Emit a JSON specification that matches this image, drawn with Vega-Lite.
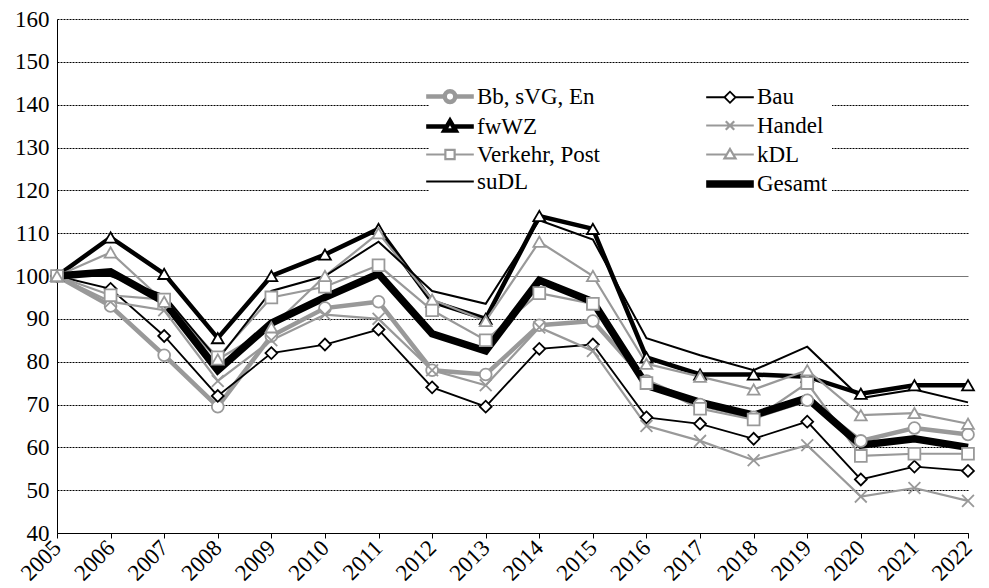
{
  "$schema": "https://vega.github.io/schema/vega-lite/v6.json",
  "width": 989,
  "height": 588,
  "autosize": {"type": "fit", "contains": "padding"},
  "padding": {"left": 14, "top": 8, "right": 6, "bottom": 2},
  "config": {
    "font": "Liberation Serif",
    "view": {"stroke": null},
    "axis": {"labelFont": "Liberation Serif", "labelFontSize": 23, "labelColor": "#000", "domainColor": "#000", "tickColor": "#000"},
    "legend": {"labelFont": "Liberation Serif", "labelFontSize": 23, "labelColor": "#000"}
  },
  "resolve": {"legend": {"shape": "independent", "strokeWidth": "independent", "stroke": "independent"}},
  "data": {"values": [
    {"s":"Bb, sVG, En","year":2005,"v":100},{"s":"Bb, sVG, En","year":2006,"v":93},{"s":"Bb, sVG, En","year":2007,"v":81.5},{"s":"Bb, sVG, En","year":2008,"v":69.5},{"s":"Bb, sVG, En","year":2009,"v":86},{"s":"Bb, sVG, En","year":2010,"v":92.5},{"s":"Bb, sVG, En","year":2011,"v":94},{"s":"Bb, sVG, En","year":2012,"v":78},{"s":"Bb, sVG, En","year":2013,"v":77},{"s":"Bb, sVG, En","year":2014,"v":88.5},{"s":"Bb, sVG, En","year":2015,"v":89.5},{"s":"Bb, sVG, En","year":2016,"v":75.5},{"s":"Bb, sVG, En","year":2017,"v":70},{"s":"Bb, sVG, En","year":2018,"v":67},{"s":"Bb, sVG, En","year":2019,"v":71},{"s":"Bb, sVG, En","year":2020,"v":61.5},{"s":"Bb, sVG, En","year":2021,"v":64.5},{"s":"Bb, sVG, En","year":2022,"v":63},
    {"s":"Bau","year":2005,"v":100},{"s":"Bau","year":2006,"v":97},{"s":"Bau","year":2007,"v":86},{"s":"Bau","year":2008,"v":72},{"s":"Bau","year":2009,"v":82},{"s":"Bau","year":2010,"v":84},{"s":"Bau","year":2011,"v":87.5},{"s":"Bau","year":2012,"v":74},{"s":"Bau","year":2013,"v":69.5},{"s":"Bau","year":2014,"v":83},{"s":"Bau","year":2015,"v":84},{"s":"Bau","year":2016,"v":67},{"s":"Bau","year":2017,"v":65.5},{"s":"Bau","year":2018,"v":62},{"s":"Bau","year":2019,"v":66},{"s":"Bau","year":2020,"v":52.5},{"s":"Bau","year":2021,"v":55.5},{"s":"Bau","year":2022,"v":54.5},
    {"s":"fwWZ","year":2005,"v":100},{"s":"fwWZ","year":2006,"v":109},{"s":"fwWZ","year":2007,"v":100.5},{"s":"fwWZ","year":2008,"v":85.5},{"s":"fwWZ","year":2009,"v":100},{"s":"fwWZ","year":2010,"v":105},{"s":"fwWZ","year":2011,"v":111},{"s":"fwWZ","year":2012,"v":94},{"s":"fwWZ","year":2013,"v":90},{"s":"fwWZ","year":2014,"v":114},{"s":"fwWZ","year":2015,"v":111},{"s":"fwWZ","year":2016,"v":81},{"s":"fwWZ","year":2017,"v":77},{"s":"fwWZ","year":2018,"v":77},{"s":"fwWZ","year":2019,"v":76.5},{"s":"fwWZ","year":2020,"v":72.5},{"s":"fwWZ","year":2021,"v":74.5},{"s":"fwWZ","year":2022,"v":74.5},
    {"s":"Handel","year":2005,"v":100},{"s":"Handel","year":2006,"v":94},{"s":"Handel","year":2007,"v":92},{"s":"Handel","year":2008,"v":75.5},{"s":"Handel","year":2009,"v":85},{"s":"Handel","year":2010,"v":91},{"s":"Handel","year":2011,"v":90},{"s":"Handel","year":2012,"v":78},{"s":"Handel","year":2013,"v":74.5},{"s":"Handel","year":2014,"v":88},{"s":"Handel","year":2015,"v":82.5},{"s":"Handel","year":2016,"v":65},{"s":"Handel","year":2017,"v":61.5},{"s":"Handel","year":2018,"v":57},{"s":"Handel","year":2019,"v":60.5},{"s":"Handel","year":2020,"v":48.5},{"s":"Handel","year":2021,"v":50.5},{"s":"Handel","year":2022,"v":47.5},
    {"s":"Verkehr, Post","year":2005,"v":100},{"s":"Verkehr, Post","year":2006,"v":95.5},{"s":"Verkehr, Post","year":2007,"v":94.5},{"s":"Verkehr, Post","year":2008,"v":81},{"s":"Verkehr, Post","year":2009,"v":95},{"s":"Verkehr, Post","year":2010,"v":97.5},{"s":"Verkehr, Post","year":2011,"v":102.5},{"s":"Verkehr, Post","year":2012,"v":92},{"s":"Verkehr, Post","year":2013,"v":85},{"s":"Verkehr, Post","year":2014,"v":96},{"s":"Verkehr, Post","year":2015,"v":93.5},{"s":"Verkehr, Post","year":2016,"v":75},{"s":"Verkehr, Post","year":2017,"v":69},{"s":"Verkehr, Post","year":2018,"v":66.5},{"s":"Verkehr, Post","year":2019,"v":75},{"s":"Verkehr, Post","year":2020,"v":58},{"s":"Verkehr, Post","year":2021,"v":58.5},{"s":"Verkehr, Post","year":2022,"v":58.5},
    {"s":"kDL","year":2005,"v":100},{"s":"kDL","year":2006,"v":105.5},{"s":"kDL","year":2007,"v":94},{"s":"kDL","year":2008,"v":80.5},{"s":"kDL","year":2009,"v":88},{"s":"kDL","year":2010,"v":100},{"s":"kDL","year":2011,"v":110},{"s":"kDL","year":2012,"v":94.5},{"s":"kDL","year":2013,"v":89.5},{"s":"kDL","year":2014,"v":108},{"s":"kDL","year":2015,"v":100},{"s":"kDL","year":2016,"v":79.5},{"s":"kDL","year":2017,"v":76.5},{"s":"kDL","year":2018,"v":73.5},{"s":"kDL","year":2019,"v":78},{"s":"kDL","year":2020,"v":67.5},{"s":"kDL","year":2021,"v":68},{"s":"kDL","year":2022,"v":65.5},
    {"s":"suDL","year":2005,"v":100},{"s":"suDL","year":2006,"v":100},{"s":"suDL","year":2007,"v":95.5},{"s":"suDL","year":2008,"v":80.5},{"s":"suDL","year":2009,"v":96.5},{"s":"suDL","year":2010,"v":100},{"s":"suDL","year":2011,"v":108},{"s":"suDL","year":2012,"v":96.5},{"s":"suDL","year":2013,"v":93.5},{"s":"suDL","year":2014,"v":113},{"s":"suDL","year":2015,"v":108.5},{"s":"suDL","year":2016,"v":85.5},{"s":"suDL","year":2017,"v":81.5},{"s":"suDL","year":2018,"v":78},{"s":"suDL","year":2019,"v":83.5},{"s":"suDL","year":2020,"v":71.5},{"s":"suDL","year":2021,"v":73.5},{"s":"suDL","year":2022,"v":70.5},
    {"s":"Gesamt","year":2005,"v":100},{"s":"Gesamt","year":2006,"v":101},{"s":"Gesamt","year":2007,"v":94},{"s":"Gesamt","year":2008,"v":78},{"s":"Gesamt","year":2009,"v":89},{"s":"Gesamt","year":2010,"v":95},{"s":"Gesamt","year":2011,"v":100.5},{"s":"Gesamt","year":2012,"v":86.5},{"s":"Gesamt","year":2013,"v":82.5},{"s":"Gesamt","year":2014,"v":99},{"s":"Gesamt","year":2015,"v":94},{"s":"Gesamt","year":2016,"v":74.5},{"s":"Gesamt","year":2017,"v":70.5},{"s":"Gesamt","year":2018,"v":67.5},{"s":"Gesamt","year":2019,"v":71.5},{"s":"Gesamt","year":2020,"v":60.5},{"s":"Gesamt","year":2021,"v":62},{"s":"Gesamt","year":2022,"v":60}
  ]},
  "encoding": {
    "x": {"field": "year", "type": "quantitative", "scale": {"domain": [2005, 2022], "nice": false},
      "axis": {"values": [2005,2006,2007,2008,2009,2010,2011,2012,2013,2014,2015,2016,2017,2018,2019,2020,2021,2022], "format": "d", "labelAngle": -45, "labelAlign": "right", "labelBaseline": "middle", "grid": false, "title": null, "tickSize": 5, "labelPadding": 6, "labelFlush": false, "labelOverlap": false}},
    "y": {"field": "v", "type": "quantitative", "scale": {"domain": [40, 160], "nice": false},
      "axis": {"values": [40,50,60,70,80,90,100,110,120,130,140,150,160], "title": null, "grid": true, "gridDash": {"condition": {"test": "datum.value == 100", "value": []}, "value": [2, 1]}, "gridColor": {"condition": {"test": "datum.value == 100", "value": "#777"}, "value": "#000"}, "gridWidth": 1, "ticks": false, "labelPadding": 8, "labelFlush": false}}
  },
  "layer": [
    {
      "mark": {"type": "line"},
      "encoding": {
        "detail": {"field": "s"},
        "stroke": {"field": "s", "type": "nominal", "title": null,
          "scale": {"domain": ["Bb, sVG, En", "fwWZ", "Verkehr, Post", "suDL", "Bau", "Handel", "kDL", "Gesamt"], "range": ["#999", "#000", "#999", "#000", "#000", "#999", "#999", "#000"]},
          "legend": {"orient": "none", "legendX": 372, "legendY": 58, "columns": 2, "columnPadding": 90, "rowPadding": -2, "symbolSize": 700, "symbolType": "circle", "fillColor": "white", "padding": 4, "labelOffset": 10,
            "encode": {"symbols": {"update": {
              "fill": {"value": "white"},
              "shape": {"signal": "datum.label == 'Bb, sVG, En' ? 'M-1.8,0L-0.4,0M0.4,0L1.8,0M0.4,0A0.4,0.4 0 1,1 -0.4,0A0.4,0.4 0 1,1 0.4,0Z' : (datum.label == 'fwWZ' || datum.label == 'kDL') ? 'M-1.8,0L-0.28,0M0.28,0L1.8,0M0,-0.42L0.42,0.3L-0.42,0.3Z' : datum.label == 'Verkehr, Post' ? 'M-1.8,0L-0.35,0M0.35,0L1.8,0M-0.35,-0.35L0.35,-0.35L0.35,0.35L-0.35,0.35Z' : datum.label == 'Bau' ? 'M-1.8,0L-0.42,0M0.42,0L1.8,0M-0.42,0L0,-0.42L0.42,0L0,0.42Z' : datum.label == 'Handel' ? 'M-1.8,0L1.8,0M-0.32,-0.32L0.32,0.32M-0.32,0.32L0.32,-0.32' : 'M-1.8,0L1.8,0'"},
              "strokeWidth": {"signal": "datum.label == 'Gesamt' ? 7.5 : (datum.label == 'fwWZ' || datum.label == 'Bb, sVG, En') ? 4 : 2"}
            }}}}},
        "strokeWidth": {"field": "s", "type": "ordinal", "legend": null,
          "scale": {"type": "ordinal", "domain": ["Bb, sVG, En", "fwWZ", "Verkehr, Post", "suDL", "Bau", "Handel", "kDL", "Gesamt"], "range": [4.5, 4.5, 2.2, 2, 1.8, 2.2, 2.2, 7.5]}}
      }
    },
    {
      "transform": [{"filter": "datum.s != 'suDL' && datum.s != 'Gesamt'"}],
      "mark": {"type": "point", "filled": false, "fill": "white", "size": 140, "strokeWidth": 1.8, "opacity": 1},
      "encoding": {
        "shape": {"field": "s", "type": "ordinal", "legend": null,
          "scale": {"domain": ["Bb, sVG, En", "fwWZ", "Verkehr, Post", "suDL", "Bau", "Handel", "kDL", "Gesamt"], "range": ["circle", "triangle-up", "square", "M0,0", "diamond", "M-1,-1L1,1M-1,1L1,-1", "triangle-up", "M0,0"]}},
        "stroke": {"field": "s", "type": "nominal", "legend": null}
      }
    }
  ]
}
